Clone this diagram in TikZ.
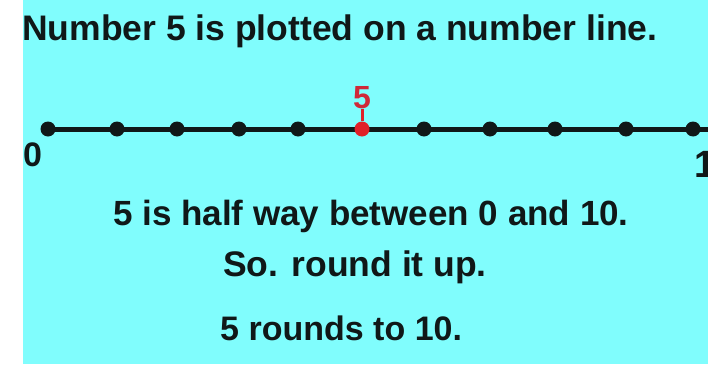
\documentclass[tikz,border=0pt]{standalone}
\usepackage{fontspec}
\setmainfont{Liberation Sans}
\definecolor{bgcyan}{HTML}{80FDFD}
\definecolor{ink}{HTML}{101818}
\definecolor{redpt}{HTML}{E02028}
\definecolor{redlbl}{HTML}{D02838}
\begin{document}
\begin{tikzpicture}[x=1pt,y=-1pt,
  txt/.style={inner sep=0pt,anchor=base west,text=ink,font=\bfseries\fontsize{#1}{#1}\selectfont},
  dot/.style={circle,fill=ink,inner sep=0pt,minimum size=15pt},
  reddot/.style={circle,fill=redpt,inner sep=0pt,minimum size=15pt}]
\useasboundingbox (0,0) rectangle (708,364);
\fill[white] (0,0) rectangle (23,364);
\fill[bgcyan] (23,0) rectangle (708,364);
\node[txt=35.5] (title) at (22,40) {Number 5 is plotted on a number line.};
% number line
\foreach \i/\x in {0/48,1/117,2/177,3/239,4/298,6/424,7/490,8/555,9/626,10/693}{
  \coordinate (d\i) at (\x,129);
}
\coordinate (d5) at (362,129);
\coordinate (rend) at (708,129);
\draw[ink,line width=5pt] (d0) -- (rend);
\foreach \i in {0,...,4,6,7,8,9,10}{ \node[dot] (n\i) at (d\i) {}; }
\node[reddot] (n5) at (d5) {};
\node[txt=32,text=redlbl,anchor=base] (five) at (362,108) {5};
\draw[redpt,line width=3pt] (five.south) -- (n5.north);
\node[txt=34] (zero) at (23,166) {0};
\begin{scope}
\clip (0,0) rectangle (708,364);
\node[txt=38] (ten) at (694,177) {10};
\end{scope}
\node[txt=35] (l1) at (113,225) {5 is half way between 0 and 10.};
\node[txt=35.5] (l2) at (223,276) {So. round it up.};
\node[txt=34] (l3) at (220,340) {5 rounds to 10.};
\end{tikzpicture}
\end{document}
